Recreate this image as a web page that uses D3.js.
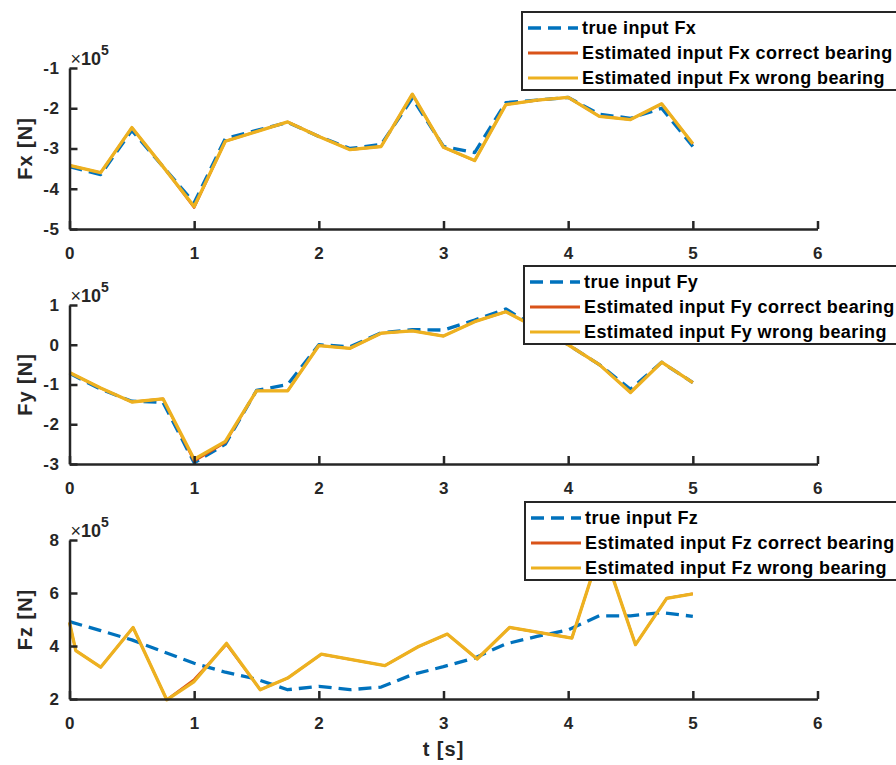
<!DOCTYPE html>
<html>
<head>
<meta charset="utf-8">
<script src="https://cdn.jsdelivr.net/npm/d3@7"></script>
<style>
  body { margin: 0; background: #fff; }
  svg { display: block; font-family: "Liberation Sans", Arial, sans-serif; }
</style>
</head>
<body>
<div id="chart"></div>
<script>
// time samples (s)
const tGrid = [0, 0.25, 0.5, 0.75, 1, 1.25, 1.5, 1.75, 2, 2.25, 2.5, 2.75, 3, 3.25, 3.5, 3.75, 4, 4.25, 4.5, 4.75, 5];
const tFzEst = [0, 0.05, 0.25, 0.51, 0.78, 1, 1.26, 1.53, 1.75, 2.02, 2.53, 2.8, 3.03, 3.27, 3.53, 4.03, 4.27, 4.54, 4.79, 5];

// values in units of 1e5 N
const fxTrue    = [-3.45, -3.65, -2.55, -3.45, -4.35, -2.75, -2.55, -2.35, -2.7, -3.0, -2.9, -1.75, -2.95, -3.1, -1.86, -1.8, -1.73, -2.15, -2.25, -2.0, -2.95];
const fxCorrect = [-3.42, -3.6, -2.48, -3.45, -4.47, -2.82, -2.58, -2.34, -2.7, -3.03, -2.95, -1.65, -2.97, -3.3, -1.91, -1.8, -1.73, -2.2, -2.28, -1.89, -2.88];
const fxWrong   = [-3.42, -3.6, -2.48, -3.45, -4.44, -2.82, -2.58, -2.34, -2.7, -3.03, -2.95, -1.65, -2.97, -3.3, -1.91, -1.8, -1.73, -2.2, -2.28, -1.89, -2.88];

const fyTrue    = [-0.72, -1.12, -1.42, -1.45, -2.97, -2.5, -1.15, -1.0, 0.0, -0.05, 0.3, 0.38, 0.37, 0.62, 0.9, 0.42, 0.0, -0.5, -1.12, -0.44, -0.95];
const fyCorrect = [-0.7, -1.09, -1.44, -1.36, -2.93, -2.46, -1.16, -1.16, -0.02, -0.09, 0.29, 0.35, 0.22, 0.58, 0.83, 0.42, 0.0, -0.5, -1.2, -0.44, -0.95];
const fyWrong   = [-0.7, -1.09, -1.44, -1.36, -2.88, -2.43, -1.16, -1.16, -0.02, -0.09, 0.29, 0.35, 0.22, 0.58, 0.83, 0.42, 0.0, -0.5, -1.2, -0.44, -0.95];

const fzTrue    = [4.92, 4.58, 4.23, 3.79, 3.35, 3.01, 2.75, 2.35, 2.48, 2.35, 2.45, 2.92, 3.22, 3.55, 4.08, 4.36, 4.61, 5.14, 5.14, 5.26, 5.12];
const fzCorrect = [4.89, 3.83, 3.2, 4.7, 1.97, 2.74, 4.06, 2.35, 2.79, 3.69, 3.26, 3.98, 4.45, 3.51, 4.7, 4.3, 7.8, 4.05, 5.8, 5.97];
const fzWrong   = [4.89, 3.83, 3.2, 4.7, 1.97, 2.66, 4.1, 2.35, 2.79, 3.69, 3.26, 3.98, 4.45, 3.51, 4.7, 4.3, 7.8, 4.05, 5.8, 5.97];

// ticks
const xTicks = [0, 1, 2, 3, 4, 5, 6];
const fxTicks = [-5, -4, -3, -2, -1];
const fyTicks = [-3, -2, -1, 0, 1];
const fzTicks = [2, 4, 6, 8];

// labels
const yLabels = ['Fx [N]', 'Fy [N]', 'Fz [N]'];
const fxLegend = ['true input Fx', 'Estimated input Fx correct bearing', 'Estimated input Fx wrong bearing'];
const fyLegend = ['true input Fy', 'Estimated input Fy correct bearing', 'Estimated input Fy wrong bearing'];
const fzLegend = ['true input Fz', 'Estimated input Fz correct bearing', 'Estimated input Fz wrong bearing'];
const xLabel = 't [s]';

const width = 896;
const height = 765;
const axisColor = '#262626';
const colors = ['#0072BD', '#D95319', '#EDB120'];

const svg = d3.select('#chart')
  .append('svg')
  .attr('width', width)
  .attr('height', height);

const x = d3.scaleLinear().domain([0, 6]).range([69.5, 817.5]);

const panels = [
  { top: 68, bottom: 229, domain: [-5, -1], ticks: fxTicks, label: yLabels[0], legend: fxLegend, lx: 522, ly: 12,
    series: [[tGrid, fxTrue], [tGrid, fxCorrect], [tGrid, fxWrong]] },
  { top: 305, bottom: 464, domain: [-3, 1], ticks: fyTicks, label: yLabels[1], legend: fyLegend, lx: 524, ly: 266,
    series: [[tGrid, fyTrue], [tGrid, fyCorrect], [tGrid, fyWrong]] },
  { top: 540, bottom: 699, domain: [2, 8], ticks: fzTicks, label: yLabels[2], legend: fzLegend, lx: 525, ly: 502,
    series: [[tGrid, fzTrue], [tFzEst, fzCorrect], [tFzEst, fzWrong]] }
];

panels.forEach(p => {
  const y = d3.scaleLinear().domain(p.domain).range([p.bottom, p.top]);
  const g = svg.append('g');

  // lines: true (dashed), correct, wrong
  const line = d3.line().x(d => x(d[0])).y(d => y(d[1]));
  p.series.forEach((s, i) => {
    const pts = s[0].map((t, k) => [t, s[1][k]]);
    g.append('path')
      .datum(pts)
      .attr('d', line)
      .attr('fill', 'none')
      .attr('stroke', colors[i])
      .attr('stroke-width', i === 1 ? 2.4 : 3.3)
      .attr('stroke-linejoin', 'round')
      .attr('stroke-dasharray', i === 0 ? '13,7' : null);
  });

  // axes (ticks point inward, matlab style)
  const xAxis = g.append('g')
    .attr('transform', `translate(0,${p.bottom})`)
    .call(d3.axisBottom(x).tickValues(xTicks).tickFormat(d => String(d))
      .tickSizeInner(-8).tickSizeOuter(0).tickPadding(18));
  const yAxis = g.append('g')
    .attr('transform', `translate(${x(0)},0)`)
    .call(d3.axisLeft(y).tickValues(p.ticks).tickFormat(d => String(d))
      .tickSizeInner(-8).tickSizeOuter(0).tickPadding(10));

  [xAxis, yAxis].forEach(a => {
    a.select('.domain').attr('stroke', axisColor).attr('stroke-width', 2.5);
    a.selectAll('.tick line').attr('stroke', axisColor).attr('stroke-width', 2.5);
    a.selectAll('.tick text')
      .attr('fill', axisColor)
      .style('font-size', '17px')
      .style('font-weight', 'bold')
      .style('letter-spacing', '0.6px');
  });

  // exponent
  const ex = g.append('text')
    .attr('x', x(0) + 1)
    .attr('y', p.top - 3)
    .attr('fill', axisColor)
    .style('font-size', '18px');
  ex.append('tspan').text('×');
  ex.append('tspan').style('font-weight', 'bold').text('10');
  ex.append('tspan').attr('dy', -10).style('font-weight', 'bold').style('font-size', '14px').text('5');

  // y label
  g.append('text')
    .attr('transform', `translate(25,${(p.top + p.bottom) / 2}) rotate(-90)`)
    .attr('text-anchor', 'middle')
    .attr('dy', '0.35em')
    .attr('fill', axisColor)
    .style('font-size', '20px')
    .style('font-weight', 'bold')
    .style('letter-spacing', '1px')
    .text(p.label);

  // legend
  const lg = g.append('g').attr('transform', `translate(${p.lx},${p.ly})`);
  lg.append('rect')
    .attr('width', 400)
    .attr('height', 78)
    .attr('fill', '#fff')
    .attr('stroke', axisColor)
    .attr('stroke-width', 2);
  p.legend.forEach((txt, i) => {
    const ry = 16 + i * 25;
    lg.append('line')
      .attr('x1', 6).attr('x2', 56)
      .attr('y1', ry).attr('y2', ry)
      .attr('stroke', colors[i])
      .attr('stroke-width', i === 0 ? 3.3 : 2.8)
      .attr('stroke-dasharray', i === 0 ? '13,7' : null);
    lg.append('text')
      .attr('x', 60)
      .attr('y', ry)
      .attr('dy', '0.35em')
      .attr('fill', '#000')
      .style('font-size', '18px')
      .style('font-weight', 'bold')
      .style('letter-spacing', '0.4px')
      .text(txt);
  });
});

// x label
svg.append('text')
  .attr('x', x(3))
  .attr('y', 756)
  .attr('text-anchor', 'middle')
  .attr('fill', axisColor)
  .style('font-size', '20px')
  .style('font-weight', 'bold')
  .style('letter-spacing', '1px')
  .text(xLabel);
</script>
</body>
</html>
